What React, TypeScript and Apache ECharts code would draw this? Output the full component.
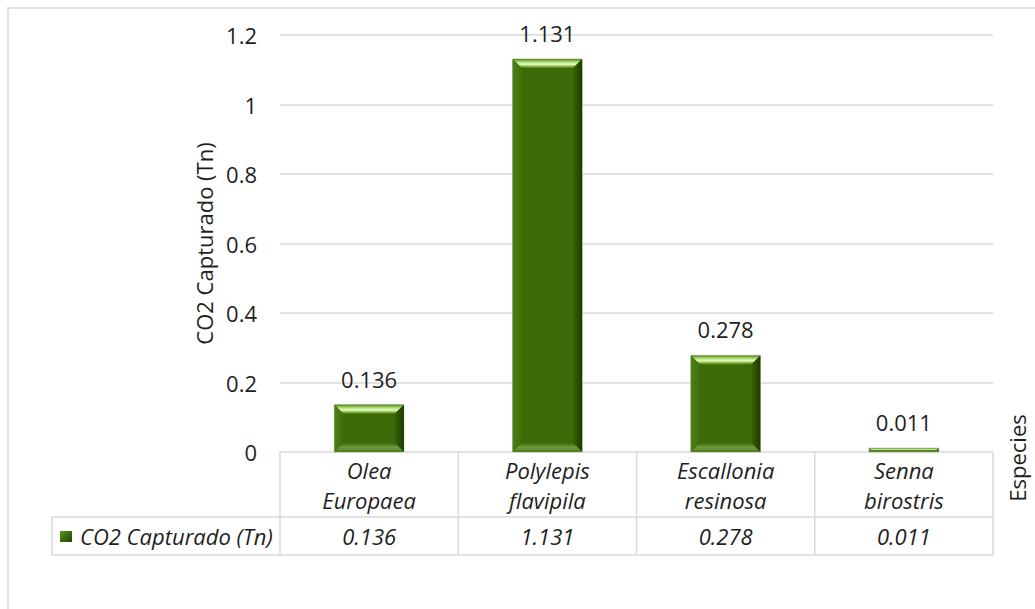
import React, { useEffect, useRef } from "react";
import * as echarts from "echarts";

// Species (two-line names as shown in the data table header)
const species = ["Olea\nEuropaea", "Polylepis\nflavipila", "Escallonia\nresinosa", "Senna\nbirostris"];
// CO2 captured per species, tonnes
const co2Values = [0.136, 1.131, 0.278, 0.011];
const seriesName = "CO2 Capturado (Tn)";
const yAxisTitle = "CO2 Capturado (Tn)";
const xAxisTitle = "Especies";
const yTicks = { min: 0, max: 1.2, interval: 0.2 };

// Layout (pixels)
const W = 1035;
const H = 609;
const PLOT_L = 280;
const PLOT_R = 993;
const PLOT_T = 35;
const PLOT_B = 452;
const HEADER_B = 517;
const ROW_B = 555;
const LEGEND_L = 52;
const FONT = "'Open Sans', Lato, sans-serif";
const FS = 22;
const TEXT = "#1f1f1f";
const RULE = "#d9d9d9";

function renderBevelBar(params: any, api: any) {
  const idx = api.value(0);
  const val = api.value(1);
  const top = api.coord([idx, val]);
  const base = api.coord([idx, 0]);
  const band = api.size([1, 0])[0];
  const w = band * 0.39;
  const x0 = top[0] - w / 2;
  const x1 = top[0] + w / 2;
  const y0 = top[1];
  const y1 = base[1];
  const h = Math.max(y1 - y0, 0.5);
  const b = Math.min(9, h / 2, w / 2);
  const LG = echarts.graphic.LinearGradient;
  return {
    type: "group",
    children: [
      {
        type: "rect",
        shape: { x: x0, y: y0, width: w, height: h },
        style: { fill: "#3b6a07", stroke: "#b9c4ad", lineWidth: 1 },
      },
      {
        type: "polygon",
        shape: { points: [[x0, y0], [x1, y0], [x1 - b, y0 + b], [x0 + b, y0 + b]] },
        style: {
          fill: new LG(0, 0, 0, 1, [
            { offset: 0, color: "#4f8517" },
            { offset: 0.35, color: "#b4e07a" },
            { offset: 0.6, color: "#e6fac4" },
            { offset: 0.8, color: "#8cbf4c" },
            { offset: 1, color: "#4a7d12" },
          ]),
        },
      },
      {
        type: "polygon",
        shape: { points: [[x0, y0], [x0 + b, y0 + b], [x0 + b, y1 - b], [x0, y1]] },
        style: {
          fill: new LG(0, 0, 1, 0, [
            { offset: 0, color: "#4e7f16" },
            { offset: 1, color: "#406f0b" },
          ]),
        },
      },
      {
        type: "polygon",
        shape: { points: [[x1, y0], [x1, y1], [x1 - b, y1 - b], [x1 - b, y0 + b]] },
        style: {
          fill: new LG(0, 0, 1, 0, [
            { offset: 0, color: "#376405" },
            { offset: 1, color: "#1e3902" },
          ]),
        },
      },
      {
        type: "polygon",
        shape: { points: [[x0, y1], [x0 + b, y1 - b], [x1 - b, y1 - b], [x1, y1]] },
        style: {
          fill: new LG(0, 0, 0, 1, [
            { offset: 0, color: "#3e6c09" },
            { offset: 0.5, color: "#6f9a40" },
            { offset: 1, color: "#4d7a1a" },
          ]),
        },
      },
      {
        type: "text",
        style: {
          x: top[0],
          y: y0 - 26,
          text: String(val),
          align: "center",
          verticalAlign: "middle",
          fontSize: FS,
          fontFamily: FONT,
          fill: TEXT,
        },
      },
    ],
  };
}

function buildTable(): any[] {
  const colW = (PLOT_R - PLOT_L) / species.length;
  const els: any[] = [];
  const line = (x1: number, y1: number, x2: number, y2: number) => ({
    type: "line",
    silent: true,
    shape: { x1, y1, x2, y2 },
    style: { stroke: RULE, lineWidth: 1.5 },
  });
  // outer chart frame
  els.push({
    type: "rect",
    silent: true,
    shape: { x: 8, y: 8, width: W + 20, height: H + 20 },
    style: { fill: "none", stroke: RULE, lineWidth: 1.5 },
  });
  for (let i = 0; i <= species.length; i++) {
    const x = PLOT_L + i * colW;
    els.push(line(x, PLOT_B, x, ROW_B));
  }
  els.push(line(LEGEND_L, HEADER_B, PLOT_R, HEADER_B));
  els.push(line(LEGEND_L, ROW_B, PLOT_R, ROW_B));
  els.push(line(LEGEND_L, HEADER_B, LEGEND_L, ROW_B));
  co2Values.forEach((v, i) => {
    els.push({
      type: "text",
      silent: true,
      style: {
        x: PLOT_L + (i + 0.5) * colW,
        y: (HEADER_B + ROW_B) / 2,
        text: String(v),
        align: "center",
        verticalAlign: "middle",
        fontSize: FS,
        fontStyle: "italic",
        fontFamily: FONT,
        fill: TEXT,
      },
    });
  });
  // legend key
  els.push({
    type: "rect",
    silent: true,
    shape: { x: 60, y: 531, width: 12, height: 11 },
    style: {
      fill: new echarts.graphic.LinearGradient(0, 0, 1, 1, [
        { offset: 0, color: "#5e9422" },
        { offset: 0.5, color: "#3d6b08" },
        { offset: 1, color: "#244404" },
      ]),
    },
  });
  els.push({
    type: "text",
    silent: true,
    style: {
      x: 80,
      y: (HEADER_B + ROW_B) / 2,
      text: seriesName,
      align: "left",
      verticalAlign: "middle",
      fontSize: FS,
      fontStyle: "italic",
      fontFamily: FONT,
      fill: TEXT,
    },
  });
  // category axis title
  els.push({
    type: "text",
    silent: true,
    x: 1017,
    y: 458,
    rotation: Math.PI / 2,
    style: {
      x: 0,
      y: 0,
      text: xAxisTitle,
      align: "center",
      verticalAlign: "middle",
      fontSize: FS,
      fontFamily: FONT,
      fill: TEXT,
    },
  });
  return els;
}

export default function App() {
  const ref = useRef<HTMLDivElement>(null);
  useEffect(() => {
    if (!ref.current) return;
    const chart = echarts.init(ref.current, null, { renderer: "svg" });
    chart.setOption({
      animation: false,
      backgroundColor: "#ffffff",
      textStyle: { fontFamily: FONT },
      grid: { left: PLOT_L, right: W - PLOT_R, top: PLOT_T, bottom: H - PLOT_B },
      xAxis: {
        type: "category",
        data: species,
        axisLine: { show: false },
        axisTick: { show: false },
        axisLabel: {
          interval: 0,
          margin: 3,
          fontSize: FS,
          lineHeight: 30,
          fontStyle: "italic",
          fontFamily: FONT,
          color: TEXT,
        },
      },
      yAxis: {
        type: "value",
        min: yTicks.min,
        max: yTicks.max,
        interval: yTicks.interval,
        name: yAxisTitle,
        nameLocation: "middle",
        nameGap: 64,
        nameRotate: 90,
        nameTextStyle: { fontSize: FS, color: TEXT, fontFamily: FONT },
        axisLine: { show: false },
        axisTick: { show: false },
        axisLabel: { margin: 23, fontSize: FS, color: TEXT, fontFamily: FONT },
        splitLine: { lineStyle: { color: RULE, width: 1.5 } },
      },
      series: [
        {
          type: "custom",
          name: seriesName,
          renderItem: renderBevelBar,
          encode: { x: 0, y: 1 },
          clip: false,
          data: co2Values.map((v, i) => [i, v]),
        },
      ],
      graphic: buildTable(),
    });
    return () => chart.dispose();
  }, []);
  return (
    <div
      ref={ref}
      style={{ position: "fixed", left: 0, top: 0, width: W, height: H }}
    />
  );
}
